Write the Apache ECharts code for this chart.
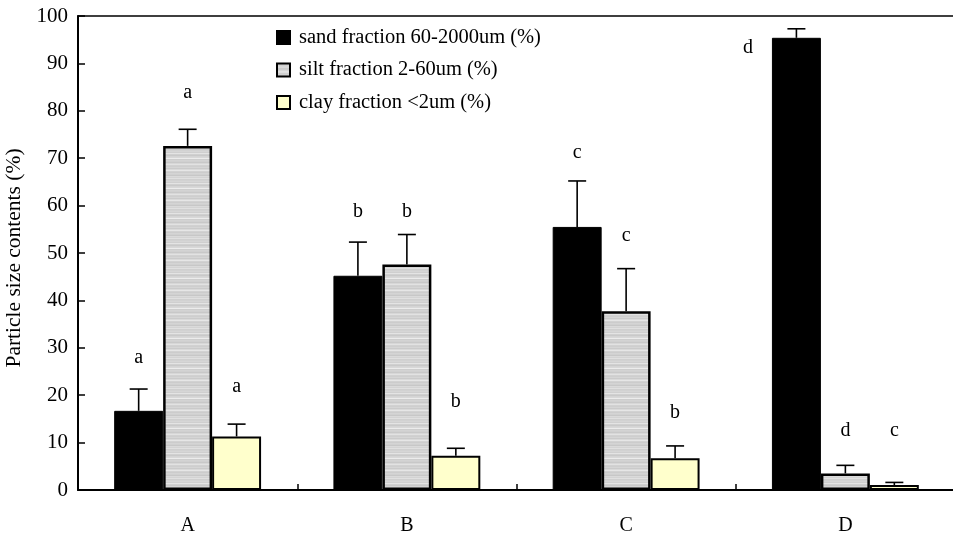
<!DOCTYPE html>
<html>
<head>
<meta charset="utf-8">
<script src="https://cdn.jsdelivr.net/npm/echarts@6/dist/echarts.min.js"></script>
<style>html,body{margin:0;padding:0;background:#fff;}#chart{width:953px;height:535px;}</style>
</head>
<body>
<div id="chart"></div>
<script>
// ---- data ----
var categories = ['A', 'B', 'C', 'D'];
var seriesNames = ['sand fraction 60-2000um (%)', 'silt fraction 2-60um (%)', 'clay fraction <2um (%)'];
var sandMean = [16.7, 45.2, 55.5, 95.4];
var sandErr  = [4.6, 7.1, 9.7, 1.9];
var siltMean = [72.6, 47.6, 37.7, 3.5];
var siltErr  = [3.5, 6.3, 9.0, 1.7];
var clayMean = [11.3, 7.2, 6.7, 1.05];
var clayErr  = [2.6, 1.6, 2.6, 0.55];
var sandLetters = ['a', 'b', 'c', 'd'];
var siltLetters = ['a', 'b', 'c', 'd'];
var clayLetters = ['a', 'b', 'b', 'c'];
// letter heights (data units)
var sandLetterY = [27.8, 58.6, 71.1, 93.2];
var siltLetterY = [83.8, 58.6, 53.7, 12.4];
var clayLetterY = [21.7, 18.7, 16.2, 12.4];
var yTicks = { min: 0, max: 100, interval: 10 };

// ---- styles ----
var FONT = 'Liberation Serif';
var GAP = 0.33;

// silt stripe pattern
var pc = document.createElement('canvas');
pc.width = 8; pc.height = 30;
var pctx = pc.getContext('2d');
var rows = ['#d2d2d2','#d6d6d6','#cfcfcf','#e4e4e4','#d0d0d0','#c9c9c9','#d4d4d4','#d8d8d8','#ececec','#cdcdcd',
            '#d3d3d3','#d0d0d0','#c8c8c8','#d7d7d7','#e2e2e2','#d1d1d1','#cecece','#d5d5d5','#cacaca','#d9d9d9',
            '#e6e6e6','#d2d2d2','#cccccc','#d4d4d4','#d0d0d0','#c7c7c7','#dadada','#d3d3d3','#e0e0e0','#cfcfcf'];
for (var r = 0; r < rows.length; r++) { pctx.fillStyle = rows[r]; pctx.fillRect(0, r, 8, 1); }

var chart = echarts.init(document.getElementById('chart'), null, { renderer: 'canvas' });

function errSeries(idx, means, errs, letters, letterY) {
  var data = means.map(function (m, i) { return [i, m, errs[i], letterY[i]]; });
  return {
    type: 'custom',
    name: seriesNames[idx] + '_err',
    clip: false,
    z: 5,
    silent: true,
    legendHoverLink: false,
    encode: { x: 0, y: 1 },
    data: data,
    renderItem: function (params, api) {
      var ci = api.value(0), m = api.value(1), e = api.value(2), ly = api.value(3);
      var band = api.size([1, 0])[0];
      var bw = band * (1 - GAP) / 3;
      var c = api.coord([ci, m]);
      var xc = c[0] + (idx - 1) * bw;
      var yTop = c[1];
      var yErr = api.coord([ci, m + e])[1];
      var yL = api.coord([ci, ly])[1];
      var lx = xc;
      if (ly < m) { lx = xc - bw / 2 - 24; }
      var capHalf = 9;
      return {
        type: 'group',
        children: [
          { type: 'line', shape: { x1: xc, y1: yTop, x2: xc, y2: yErr }, style: { stroke: '#000', lineWidth: 1.6 } },
          { type: 'line', shape: { x1: xc - capHalf, y1: yErr, x2: xc + capHalf, y2: yErr }, style: { stroke: '#000', lineWidth: 1.6 } },
          { type: 'text', x: lx, y: yL, style: { text: letters[ci], font: '20px "' + FONT + '"', fill: '#000', align: 'center', verticalAlign: 'middle' } }
        ]
      };
    }
  };
}

var option = {
  animation: false,
  backgroundColor: '#fff',
  grid: { left: 78, top: 16, right: -2, bottom: 45, containLabel: false, outerBoundsMode: 'none' },
  legend: {
    orient: 'vertical',
    left: 271, top: 22,
    itemWidth: 13, itemHeight: 13,
    itemGap: 11.5,
    data: seriesNames,
    textStyle: { fontFamily: FONT, fontSize: 20.5, color: '#000', padding: [0, 0, 0, 4] },
    icon: 'rect'
  },
  xAxis: [{
    type: 'category',
    data: categories,
    axisLine: { lineStyle: { color: '#000', width: 2 } },
    axisTick: { show: true, inside: true, length: 6, alignWithLabel: false, lineStyle: { color: '#000', width: 1.5 } },
    axisLabel: { fontFamily: FONT, fontSize: 20, color: '#000', margin: 26 },
    splitLine: { show: false }
  }, {
    type: 'category',
    position: 'top',
    data: categories,
    axisLine: { show: true, lineStyle: { color: '#000', width: 1.5 } },
    axisTick: { show: false },
    axisLabel: { show: false },
    splitLine: { show: false }
  }],
  yAxis: {
    type: 'value',
    min: yTicks.min, max: yTicks.max, interval: yTicks.interval,
    name: 'Particle size contents (%)',
    nameLocation: 'middle',
    nameGap: 47,
    nameTextStyle: { fontFamily: FONT, fontSize: 21.5, color: '#000', padding: [0, 10, 0, 0] },
    axisLine: { show: true, lineStyle: { color: '#000', width: 2 } },
    axisTick: { show: true, inside: true, length: 7, lineStyle: { color: '#000', width: 1.5 } },
    axisLabel: { fontFamily: FONT, fontSize: 21, color: '#000', margin: 10 },
    splitLine: { show: false }
  },
  series: [
    { type: 'bar', name: seriesNames[0], data: sandMean, barGap: '0%', barCategoryGap: (GAP * 100) + '%',
      itemStyle: { color: '#000', borderColor: '#000', borderWidth: 1 } },
    { type: 'bar', name: seriesNames[1], data: siltMean, barGap: '0%', barCategoryGap: (GAP * 100) + '%',
      itemStyle: { color: { image: pc, repeat: 'repeat' }, borderColor: '#000', borderWidth: 2.5 } },
    { type: 'bar', name: seriesNames[2], data: clayMean, barGap: '0%', barCategoryGap: (GAP * 100) + '%',
      itemStyle: { color: '#FFFFCC', borderColor: '#000', borderWidth: 2 } },
    errSeries(0, sandMean, sandErr, sandLetters, sandLetterY),
    errSeries(1, siltMean, siltErr, siltLetters, siltLetterY),
    errSeries(2, clayMean, clayErr, clayLetters, clayLetterY)
  ]
};
chart.setOption(option);
</script>
</body>
</html>
